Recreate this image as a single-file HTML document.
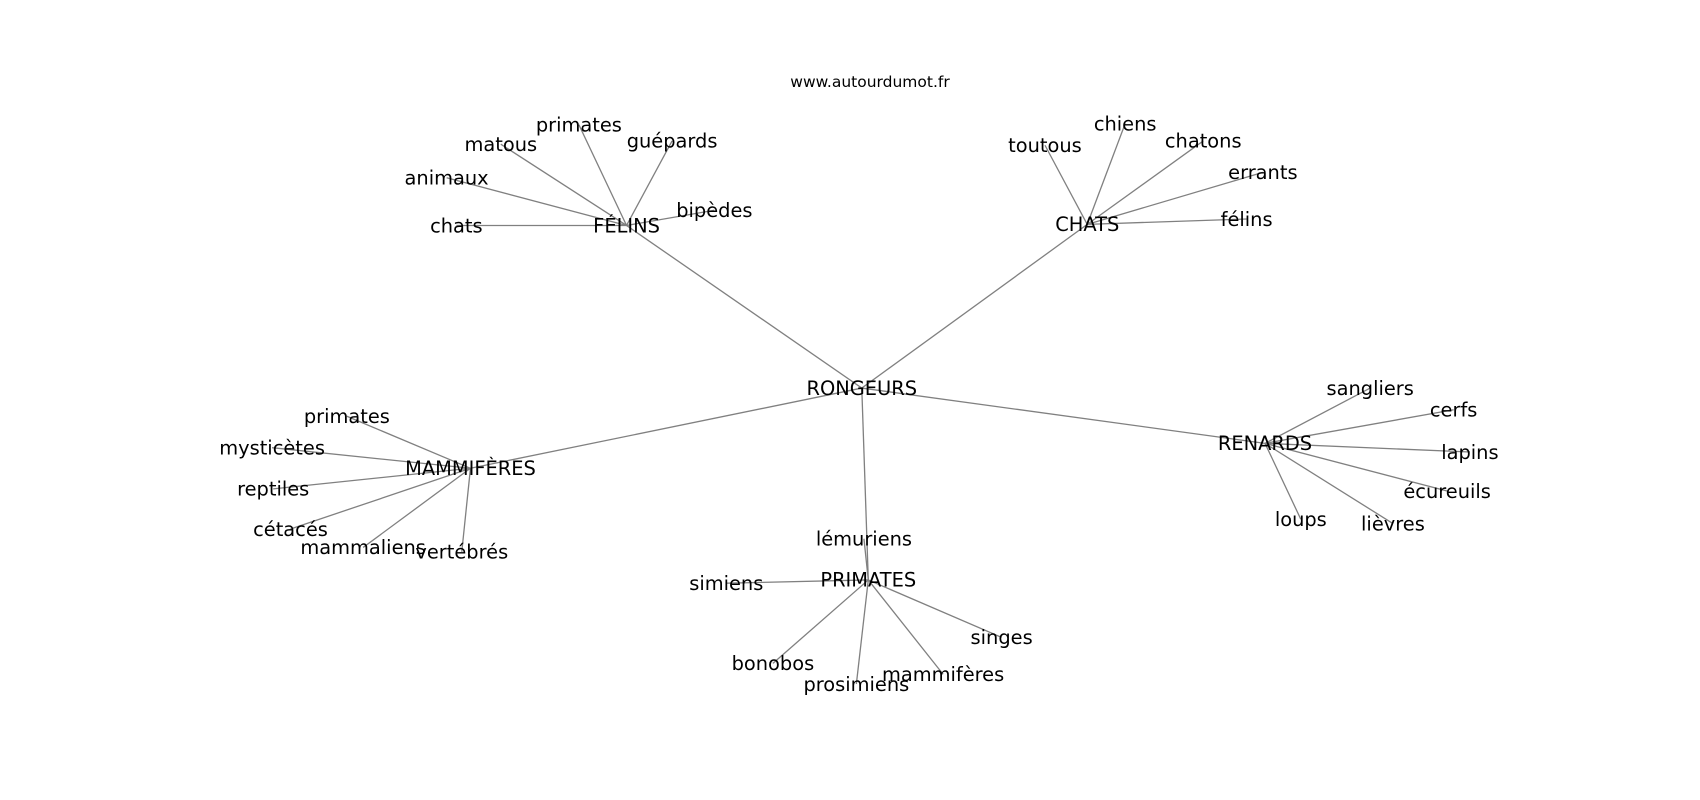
<!DOCTYPE html>
<html><head><meta charset="utf-8"><style>
html,body{margin:0;padding:0;background:#fff;}
svg{display:block;}
text{font-family:"DejaVu Sans","Liberation Sans",sans-serif;fill:#000;}
</style></head><body>
<svg id="s" width="1700" height="800" viewBox="0 0 1700 800" xmlns="http://www.w3.org/2000/svg">
<g id="e" stroke="#808080" stroke-width="1.3" fill="none"></g>
<g id="t" font-size="19.4" text-anchor="middle"></g>
<text x="870" y="87" font-size="15.5" text-anchor="middle">www.autourdumot.fr</text>
</svg>
<script>
var k=1.084;
var hubs={
"RONGEURS":[795,358],
"FÉLINS":[578,208],"CHATS":[1003,207],"MAMMIFÈRES":[434,432],"RENARDS":[1167,409],"PRIMATES":[801,535]};
var leaves={
"FÉLINS":[["chats",421,208],["animaux",412,164],["matous",462,133],["primates",534,115],["guépards",620,130],["bipèdes",659,194]],
"CHATS":[["toutous",964,134],["chiens",1038,114],["chatons",1110,130],["errants",1165,159],["félins",1150,202]],
"MAMMIFÈRES":[["primates",320,384],["mysticètes",251,413],["reptiles",252,451],["cétacés",268,488],["mammaliens",335,505],["vertébrés",426,509]],
"RENARDS":[["sangliers",1264,358],["cerfs",1341,378],["lapins",1356,417],["écureuils",1335,453],["lièvres",1285,483],["loups",1200,479]],
"PRIMATES":[["lémuriens",797,497],["simiens",670,538],["bonobos",713,612],["prosimiens",790,631],["mammifères",870,622],["singes",924,588]]};
var NS="http://www.w3.org/2000/svg",E=document.getElementById("e"),T=document.getElementById("t");
function line(a,b){var l=document.createElementNS(NS,"line");l.setAttribute("x1",a[0]*k);l.setAttribute("y1",a[1]*k);l.setAttribute("x2",b[0]*k);l.setAttribute("y2",b[1]*k);E.appendChild(l);}
function txt(s,p){var t=document.createElementNS(NS,"text");t.setAttribute("x",p[0]*k);t.setAttribute("y",p[1]*k+6.8);t.textContent=s;T.appendChild(t);}
var r=hubs["RONGEURS"];txt("RONGEURS",r);
for(var h in leaves){var p=hubs[h];line(r,p);txt(h,p);leaves[h].forEach(function(q){line(p,[q[1],q[2]]);txt(q[0],[q[1],q[2]]);});}
</script>
</body></html>
